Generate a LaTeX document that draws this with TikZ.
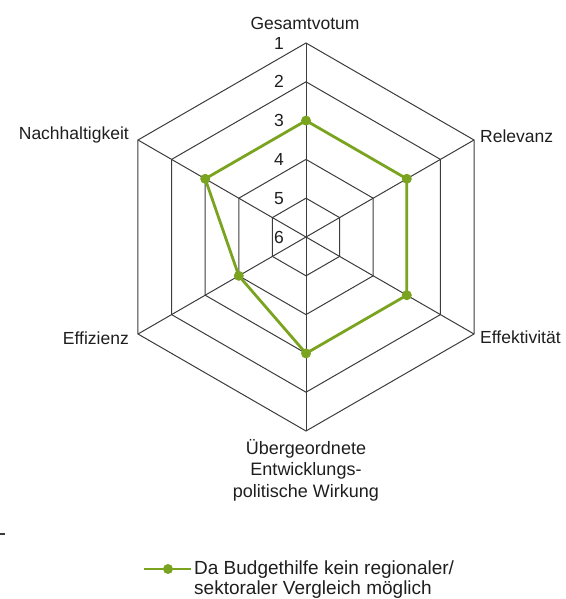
\documentclass[tikz,border=0pt]{standalone}
\usepackage{fontspec}
\setmainfont{Liberation Sans}
\definecolor{gridc}{RGB}{60,60,60}
\definecolor{txt}{RGB}{30,30,30}
\definecolor{dgreen}{RGB}{122,164,32}
\begin{document}
\begin{tikzpicture}[x=1pt,y=1pt,
  gridline/.style={draw=gridc,line width=1pt},
  series/.style={draw=dgreen,line width=2.8pt,line join=round},
  dot/.style={circle,fill=dgreen,inner sep=0pt,minimum size=10pt},
  lab/.style={text=txt,font=\fontsize{17.5}{21}\selectfont,inner sep=0pt},
  num/.style={text=txt,font=\fontsize{17.5}{21}\selectfont,inner sep=0pt,anchor=east}]
\useasboundingbox (0,0) rectangle (565,-599);
\begin{scope}[shift={(306,-237)}]
  \coordinate (c) at (0,0);
  \foreach \a/\n in {90/g,30/r,-30/e,-90/u,210/f,150/h}{
    \foreach \k in {1,...,5}{
      \coordinate (\n\k) at (\a:{(6-\k)*38.8});
    }
  }
  % rings
  \foreach \k in {1,...,5}{
    \draw[gridline] (g\k) -- (r\k) -- (e\k) -- (u\k) -- (f\k) -- (h\k) -- cycle;
  }
  % spokes
  \foreach \n in {g,r,e,u,f,h}{
    \draw[gridline] (c) -- (\n1);
  }
  % scale numbers
  \foreach \k in {1,...,5}{
    \node[num] (n\k) at ([xshift=-22]g\k) {\k};
  }
  \node[num] (n6) at (-22,0) {6};
  % data series
  \draw[series] (g3) -- (r3) -- (e3) -- (u3) -- (f4) -- (h3) -- cycle;
  \foreach \p in {g3,r3,e3,u3,f4,h3}{
    \node[dot] (d\p) at (\p) {};
  }
\end{scope}
% axis labels
\node[lab,anchor=center] (lg) at (305,-23) {Gesamtvotum};
\node[lab,anchor=west] (lr) at (480,-136) {Relevanz};
\node[lab,anchor=west] (le) at (480,-337) {Effektivität};
\node[lab,anchor=east] (lh) at (129,-135) {Nachhaltigkeit};
\node[lab,anchor=east] (lf) at (129,-338) {Effizienz};
\node[lab,anchor=north,align=center,font=\fontsize{18}{21.5}\selectfont] (lu) at (306,-439)
  {Übergeordnete\\Entwicklungs-\\politische Wirkung};
% stray mark
\coordinate (s1) at (0,-534);
\coordinate (s2) at (5,-534);
\draw[draw=gridc,line width=1.2pt] (s1) -- (s2);
% legend
\coordinate (la) at (144,-569);
\coordinate (lb) at (191,-569);
\draw[series] (la) -- (lb);
\node[dot] (ld) at (168,-569) {};
\node[lab,anchor=north west,align=left,font=\fontsize{19}{19.5}\selectfont] (lt) at (194,-561)
  {Da Budgethilfe kein regionaler/\\sektoraler Vergleich möglich};
\end{tikzpicture}
\end{document}
